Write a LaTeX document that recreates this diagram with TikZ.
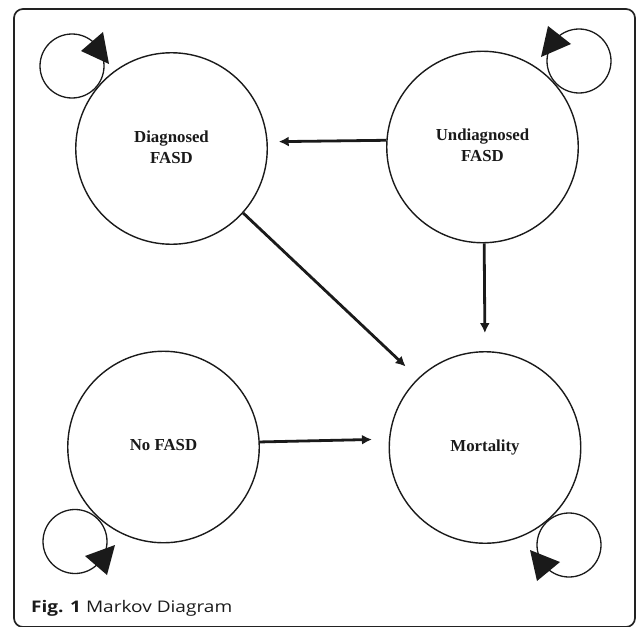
\documentclass[tikz,border=0pt]{standalone}
\usepackage{fontspec}
\setmainfont{Liberation Serif}
\newfontfamily\capfont{Open Sans}
\usetikzlibrary{arrows.meta}
\definecolor{ink}{HTML}{1A1A1A}
\definecolor{framec}{HTML}{222222}
\tikzset{
  state/.style={circle,draw=ink,line width=1.4pt,minimum size=191.5pt,inner sep=0pt,
    align=center,font=\bfseries\fontsize{16.8}{21}\selectfont,text=ink},
  loopc/.style={circle,draw=ink,line width=1.3pt,minimum size=64pt,inner sep=0pt},
  head/.style={fill=ink,draw=none},
  arr/.style={draw=ink,line width=2.8pt,-{Latex[length=10pt,width=10pt]}}
}
\begin{document}
\begin{tikzpicture}[x=1pt,y=-1pt]
\useasboundingbox (0,0) rectangle (636,626);
\draw[framec,line width=1.7pt,rounded corners=9pt] (14,9) rectangle (635,627);
% self loops (drawn first, under the states)
\node[loopc] (l1) at (72,66) {};
\node[loopc] (l2) at (579,61) {};
\node[loopc] (l3) at (75,541.5) {};
\node[loopc] (l4) at (569,545) {};
\fill[head] (81,51) -- (103,32) -- (109,64) -- cycle;
\fill[head] (548,26) -- (571,44) -- (541,57) -- cycle;
\fill[head] (85,556) -- (115,545) -- (107,575) -- cycle;
\fill[head] (530,550) -- (560,562) -- (537,581) -- cycle;
% states
\node[state,fill=white] (diag) at (171.5,148.5) {\raisebox{3pt}{\begin{tabular}{@{}c@{}}Diagnosed\\FASD\end{tabular}}};
\node[state,fill=white] (und) at (482.5,147) {\raisebox{4pt}{\begin{tabular}{@{}c@{}}Undiagnosed\\FASD\end{tabular}}};
\node[state,fill=white] (nof) at (163.5,447) {\raisebox{4pt}{No FASD}};
\node[state,fill=white] (mort) at (485,447.5) {\raisebox{4pt}{Mortality}};
% transitions
\draw[arr,shorten >=11pt] (und.176.4) -- (diag.4.5);
\draw[arr,shorten >=18pt] (und.-89.3) -- (mort.90.8);
\draw[arr,shorten >=17pt] (diag.-42.9) -- (mort.134.1);
\draw[arr,shorten >=17pt] (nof.3.9) -- (mort.175.8);
% caption
\node[anchor=base west,inner sep=0pt,font=\capfont\fontsize{16}{18}\selectfont,text=ink] (cap) at (31,612) {\resizebox{201pt}{\height}{\textbf{Fig. 1} Markov Diagram}};
\end{tikzpicture}
\end{document}
